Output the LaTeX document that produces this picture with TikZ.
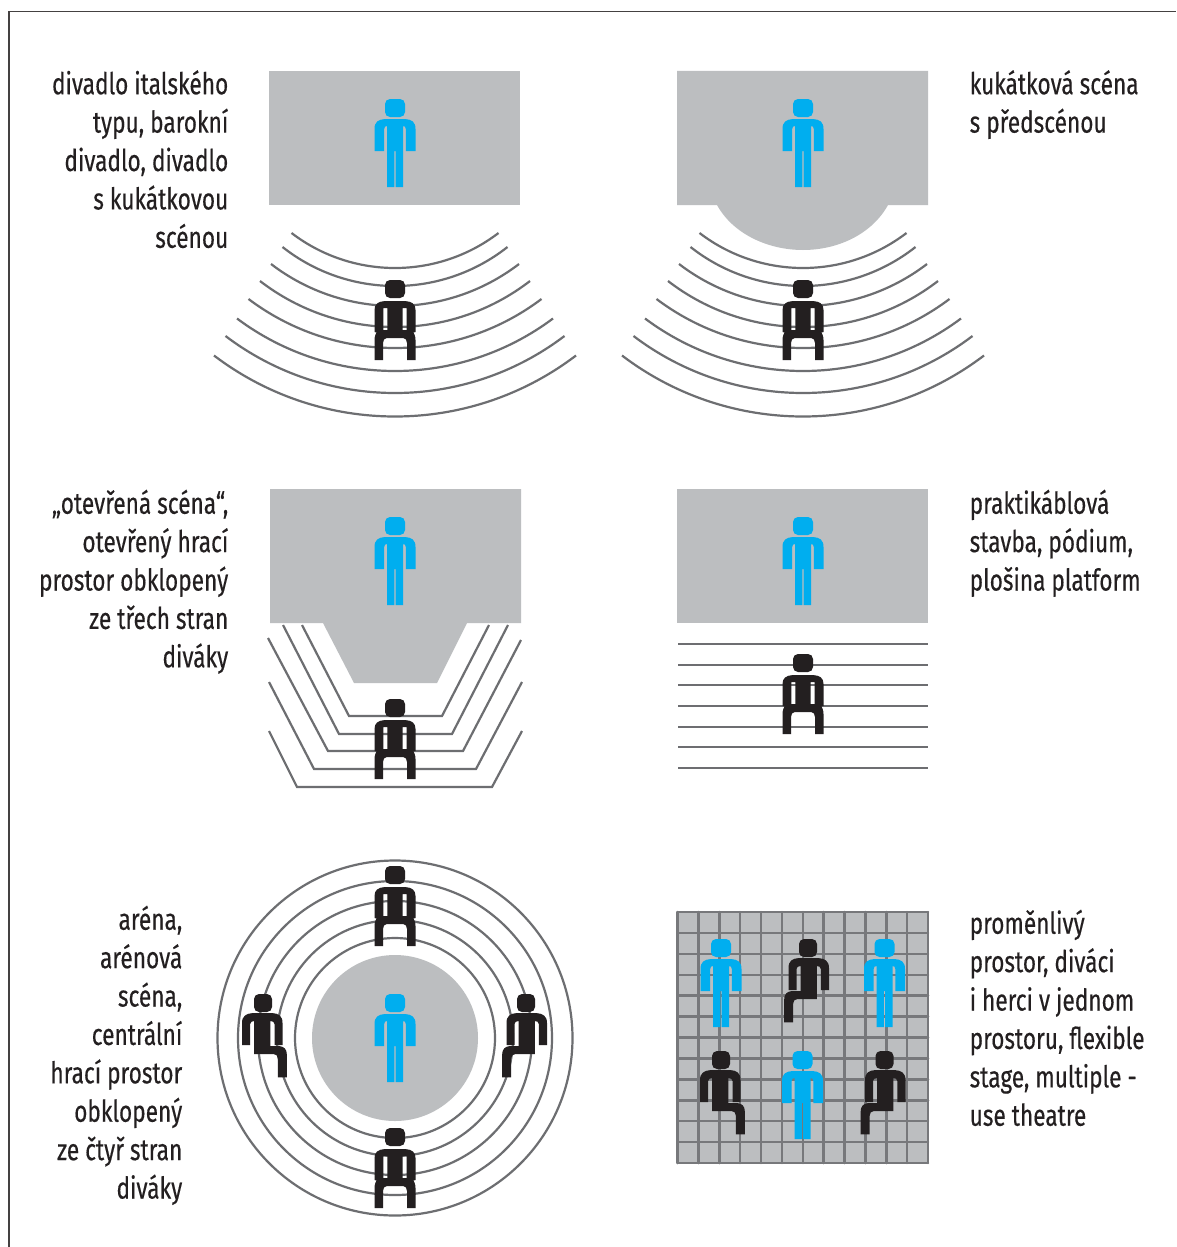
\documentclass[tikz,border=0pt]{standalone}
\usepackage{fontspec}
\setmainfont[FakeStretch=0.755,FakeBold=0.35]{Fira Sans}
\definecolor{stagegray}{HTML}{BCBEC0}
\definecolor{rowline}{HTML}{6D6E71}
\definecolor{gridline}{HTML}{77787B}
\definecolor{actorblue}{HTML}{00AEEF}
\definecolor{inkblack}{HTML}{231F20}
\tikzset{
  stagearea/.style={fill=stagegray,draw=none},
  seatrow/.style={draw=rowline,line width=2.2pt,line cap=butt,fill=none},
  captionR/.style={anchor=north east,inner sep=0pt,align=right,text=inkblack,font=\fontsize{30}{38.4}\selectfont},
  captionL/.style={anchor=north west,inner sep=0pt,align=left,text=inkblack,font=\fontsize{30}{38.4}\selectfont}
}
% head
\newcommand\figHead[2]{\fill[#1,rounded corners=5pt] (-#2,0) rectangle (#2,18);}
% standing person: colour, cx, top y
\newcommand\standFig[3]{\begin{scope}[shift={(#2,#3)}]
 \figHead{#1}{10}
 \fill[#1] (-20.5,52) -- (-20.5,30) .. controls (-20.5,23) and (-17,20.5) .. (-10,20) -- (10,20) .. controls (17,20.5) and (20.5,23) .. (20.5,30) -- (20.5,52) -- (10.8,52) -- (10.8,30) .. controls (10.8,28) and (9.8,27) .. (8,27) -- (8,88) -- (0.6,88) -- (0.6,52) -- (-0.6,52) -- (-0.6,88) -- (-8,88) -- (-8,27) .. controls (-9.8,27) and (-10.8,28) .. (-10.8,30) -- (-10.8,52) -- cycle;
\end{scope}}
% seated from the front: cx, top y
\newcommand\seatFig[2]{\begin{scope}[shift={(#1,#2)}]
 \figHead{inkblack}{10}
 \fill[inkblack,even odd rule] (-20.5,80) -- (-20.5,60) .. controls (-20.5,56) and (-19,53.5) .. (-18.5,52.5) -- (-20.5,52) -- (-20.5,30) .. controls (-20.5,24) and (-17,21.5) .. (-10,21) -- (10,21) .. controls (17,21.5) and (20.5,24) .. (20.5,30) -- (20.5,52) -- (18.5,52.5) .. controls (19,53.5) and (20.5,56) .. (20.5,60) -- (20.5,80) -- (12,80) -- (12,63) .. controls (12,60) and (10.5,58) .. (8,58) -- (-8,58) .. controls (-10.5,58) and (-12,60) .. (-12,63) -- (-12,80) -- cycle
 (-11.7,28) rectangle (-7.7,50) (7.7,28) rectangle (11.7,50);
\end{scope}}
% seated in profile: xscale, cx, top y
\newcommand\sideFig[3]{\begin{scope}[shift={(#2,#3)},xscale=#1]
 \figHead{inkblack}{9}
 \fill[inkblack] (-21,51) -- (-21,29) .. controls (-21,22) and (-17,19.5) .. (-10,19) -- (9,19) .. controls (16,19.5) and (19.5,22) .. (19.5,29) -- (19.5,51) -- (11.5,51) -- (11.5,30) .. controls (11.5,28) and (9.5,27) .. (7.4,27) -- (7.4,52) -- (16,52) .. controls (21,52.5) and (23.9,55) .. (23.9,61) -- (23.9,83.3) -- (14.9,83.3) -- (14.9,65) .. controls (14.9,62) and (13.5,60) .. (10.5,60) -- (-8.8,60) -- (-8.8,27) .. controls (-10.8,27) and (-12.8,28) .. (-12.8,30) -- (-12.8,51) -- cycle;
\end{scope}}
% curved seat rows: cx
\newcommand\curvedRows[1]{%
 \foreach \h/\yend/\ybot in {103.5/233/268,112.5/247/286,124/264/306,135/281/327,146.5/299/348,158/318.5/371,169.5/336/393,181/355.5/416.5}{%
  \pgfmathsetmacro\sag{\ybot-\yend}
  \pgfmathsetmacro\th{2*atan(\sag/\h)}
  \pgfmathsetmacro\len{4/3*\sag/sin(\th)}
  \pgfmathsetmacro\dx{\len*cos(\th)}
  \pgfmathsetmacro\dy{\len*sin(\th)}
  \draw[seatrow] ({#1-\h},\yend) .. controls ({#1-\h+\dx},{\yend+\dy}) and ({#1+\h-\dx},{\yend+\dy}) .. ({#1+\h},\yend);
 }}
\begin{document}
\begin{tikzpicture}[x=1pt,y=-1pt]
\useasboundingbox (0,0) rectangle (1176,1247);
\fill[white] (0,0) rectangle (1176,1247);
% frame
\draw[draw=inkblack!85,line width=1.6pt] (9,1247) -- (9,11.5) -- (1176,11.5);

% panel 1
\fill[stagearea] (269,71) rectangle (520,205);
\curvedRows{395}
\standFig{actorblue}{395}{99}
\seatFig{395}{280}
\node[captionR] (capA) at (228.5,70) {divadlo italského\\typu, barokní\\divadlo, divadlo\\s kukátkovou\\scénou};

% panel 2
\fill[stagearea] (677,71) -- (928,71) -- (928,205) -- (888,205) .. controls (872,234) and (838,250) .. (803,250) .. controls (768,250) and (733,234) .. (717,205) -- (677,205) -- cycle;
\curvedRows{803}
\standFig{actorblue}{803}{99}
\seatFig{803}{280}
\node[captionL] (capB) at (969.5,70) {kukátková scéna\\s předscénou};

% panel 3
\fill[stagearea] (270,489) -- (521,489) -- (521,623) -- (467,623) -- (437,683) -- (354,683) -- (323,623) -- (270,623) -- cycle;
\draw[seatrow] (302,625) -- (349,716) -- (442,716) -- (489,625);
\draw[seatrow] (283,625) -- (339,734) -- (452,734) -- (508,625);
\draw[seatrow] (268,638) -- (328,751) -- (463,751) -- (521,640);
\draw[seatrow] (269,682) -- (314,769) -- (476,769) -- (522,682);
\draw[seatrow] (269,731) -- (297,787) -- (492,787) -- (522,731);
\standFig{actorblue}{395}{517}
\seatFig{395}{699}
\node[captionR] (capC) at (228.5,489.5) {„otevřená scéna“,\\otevřený hrací\\prostor obklopený\\ze třech stran\\diváky};

% panel 4
\fill[stagearea] (677,489) rectangle (928,623);
\foreach \yy in {644,665,685,706,727,747,768}{\draw[seatrow] (678,\yy) -- (928,\yy);}
\standFig{actorblue}{803}{517}
\seatFig{803}{654}
\node[captionL] (capD) at (969.5,489.5) {praktikáblová\\stavba, pódium,\\plošina platform};

% panel 5
\foreach \rr in {177.5,157,137,118,100}{\draw[seatrow] (395,1038) circle[radius=\rr];}
\fill[stagearea] (395,1038) circle[radius=83];
\standFig{actorblue}{395}{994}
\seatFig{395}{866}
\seatFig{395}{1128}
\sideFig{1}{263}{994}
\sideFig{-1}{526}{994}
\node[captionR] (capE) at (182.5,905.5) {aréna,\\arénová\\scéna,\\centrální\\hrací prostor\\obklopený\\ze čtyř stran\\diváky};

% panel 6
\fill[stagearea] (677.5,912) rectangle (928,1163);
\foreach \ii in {0,...,12}{
  \draw[draw=gridline,line width=2.5pt,line cap=round] ({677.5+\ii*20.875},912) -- ({677.5+\ii*20.875},1163);
  \draw[draw=gridline,line width=2.5pt,line cap=round] (677.5,{912+\ii*20.917}) -- (928,{912+\ii*20.917});
}
\standFig{actorblue}{721}{939}
\standFig{actorblue}{884.5}{939}
\standFig{actorblue}{802.5}{1051}
\sideFig{-1}{808}{939}
\sideFig{1}{721}{1051}
\sideFig{-1}{884.5}{1051}
\node[captionL] (capF) at (969.5,909.5) {proměnlivý\\prostor, diváci\\i herci v jednom\\prostoru, flexible\\stage, multiple -\\use theatre};
\end{tikzpicture}
\end{document}
